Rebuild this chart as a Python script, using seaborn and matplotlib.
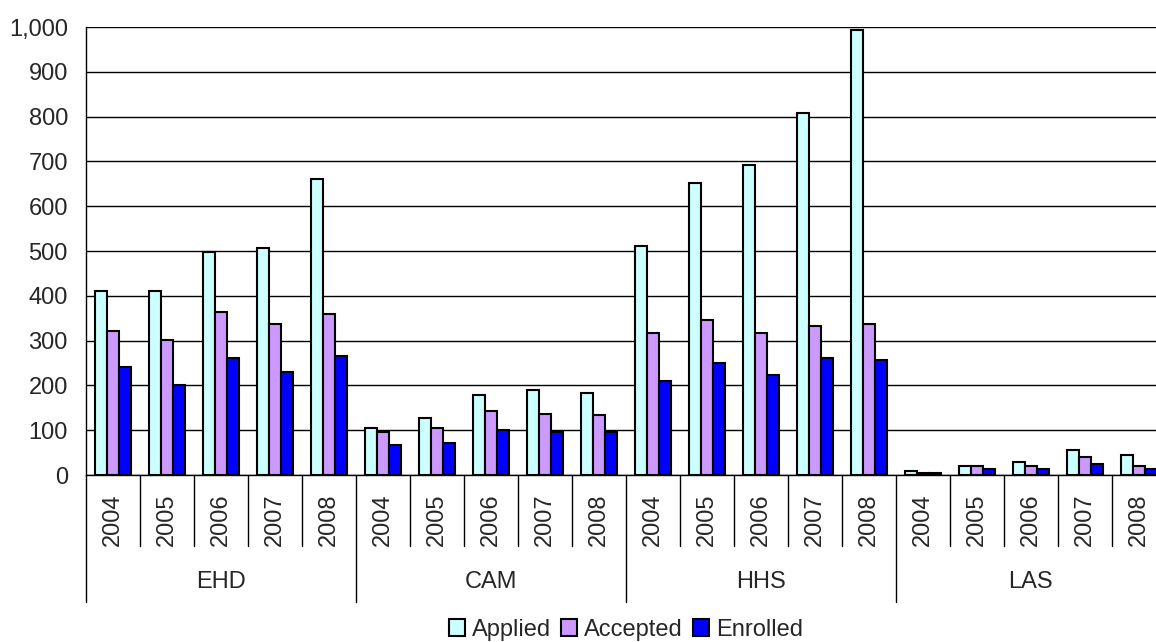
import pandas as pd
import matplotlib.pyplot as plt
import matplotlib.transforms as mtransforms
from matplotlib.ticker import FuncFormatter
import seaborn as sns

# data
groups = ["EHD", "CAM", "HHS", "LAS"]
years = ["2004", "2005", "2006", "2007", "2008"]
applied = [410, 410, 497, 507, 661,
           106, 128, 178, 189, 183,
           511, 651, 692, 809, 994,
           10, 20, 30, 55, 45]
accepted = [322, 302, 363, 338, 359,
            96, 106, 142, 136, 133,
            317, 347, 317, 332, 338,
            4, 20, 20, 40, 20]
enrolled = [241, 200, 261, 230, 266,
            66, 71, 101, 96, 96,
            209, 251, 224, 261, 256,
            4, 14, 14, 25, 14]

slots = [g + " " + y for g in groups for y in years]
df = pd.DataFrame({"slot": slots, "Applied": applied,
                   "Accepted": accepted, "Enrolled": enrolled})
long_df = df.melt(id_vars="slot", var_name="Series", value_name="Value")

colors = {"Applied": "#CCFFFF", "Accepted": "#CC99FF", "Enrolled": "#0000FF"}

sns.set_style("white")
plt.rcParams["font.family"] = ["Liberation Sans", "DejaVu Sans"]

fig = plt.figure(figsize=(11.56, 6.42), dpi=100)
# the plot area runs slightly past the right edge of the image, as in the original
ax = fig.add_axes([0.0744, 0.2601, 0.934, 0.6978])

sns.barplot(data=long_df, x="slot", y="Value", hue="Series", order=slots,
            hue_order=["Applied", "Accepted", "Enrolled"], palette=colors,
            saturation=1, width=0.67, edgecolor="black", linewidth=1.5, ax=ax)

ax.set_xlim(-0.5, len(slots) - 0.5)
ax.set_ylim(0, 1000)
ax.set_yticks(range(0, 1001, 100))
ax.yaxis.set_major_formatter(FuncFormatter(lambda v, p: f"{int(v):,}"))
ax.grid(axis="y", color="black", linewidth=1)
ax.set_axisbelow(True)
ax.set_xlabel("")
ax.set_ylabel("")
ax.set_xticks(range(len(slots)))
ax.set_xticklabels([s.split()[1] for s in slots], rotation=90)
ax.tick_params(axis="x", length=0, pad=13, labelsize=17)
ax.tick_params(axis="y", length=0, pad=13, labelsize=17)
for side in ["top", "right"]:
    ax.spines[side].set_visible(False)
for side in ["left", "bottom"]:
    ax.spines[side].set_color("black")
    ax.spines[side].set_linewidth(1)

# category separators below the axis
trans = mtransforms.blended_transform_factory(ax.transData, ax.transAxes)
for i in range(len(slots) + 1):
    bottom = -0.283 if i % len(years) == 0 else -0.158
    ax.plot([i - 0.5, i - 0.5], [0, bottom], color="black", linewidth=1,
            transform=trans, clip_on=False)
for k, g in enumerate(groups):
    ax.text(k * len(years) + 2, -0.239, g, transform=trans, ha="center",
            va="center", fontsize=17)

handles, labels = ax.get_legend_handles_labels()
ax.get_legend().remove()
ax.legend(handles, labels, loc="center", bbox_to_anchor=(0.5, -0.345),
          ncol=3, frameon=False, fontsize=17, handlelength=0.7,
          handleheight=0.7, handletextpad=0.3, columnspacing=0.4,
          borderaxespad=0)

plt.savefig("out.png", dpi=100)
